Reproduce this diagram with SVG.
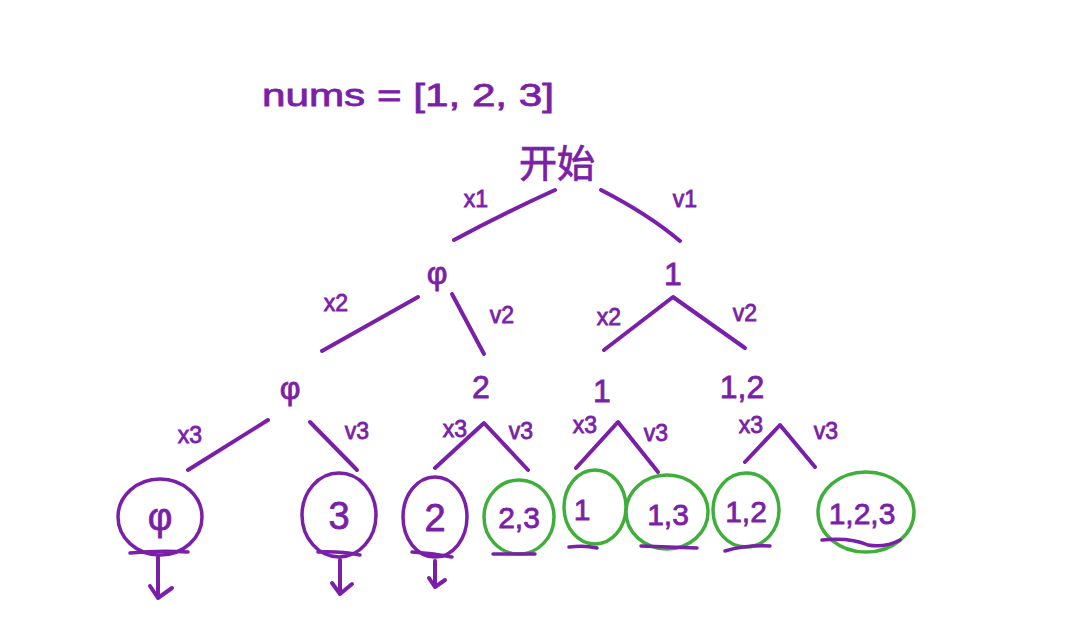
<svg xmlns="http://www.w3.org/2000/svg" width="1084" height="631" viewBox="0 0 1084 631">
<defs>
<style>
.t{font-family:"Liberation Sans","Noto Sans CJK SC",sans-serif;fill:#7a1fa8;stroke:#7a1fa8;stroke-width:0.8;text-anchor:middle}
.big{font-size:32px}
.lbl{font-size:23px}
.node{font-size:32px}
.leafb{font-size:38px}
.leaf{font-size:30px}
.e{fill:none;stroke:#7a1fa8;stroke-width:4;stroke-linecap:round;stroke-linejoin:round}
.p{fill:none;stroke:#7a1fa8;stroke-width:3.5}
.g{fill:none;stroke:#3fae3a;stroke-width:3.5}
.u{fill:none;stroke:#7a1fa8;stroke-width:3.5;stroke-linecap:round}
</style>
</defs>
<rect width="1084" height="631" fill="#ffffff"/>
<text class="t big" x="408" y="106" textLength="292" lengthAdjust="spacingAndGlyphs">nums = [1, 2, 3]</text>
<g id="root"><text class="t" style="font-size:38px" x="557" y="177">开始</text></g>
<g id="n_phi1"><text class="t node" x="437" y="284">φ</text></g>
<g id="n_1"><text class="t node" x="673" y="285">1</text></g>
<g id="n_phi2"><text class="t node" x="290" y="399">φ</text></g>
<g id="n_2"><text class="t node" x="481" y="398">2</text></g>
<g id="n_1b"><text class="t node" x="602" y="402">1</text></g>
<g id="n_12"><text class="t node" x="742" y="398">1,2</text></g>
<g id="leaf_phi"><ellipse class="p" cx="160" cy="517" rx="42" ry="38"/><text class="t leafb" x="160" y="530">φ</text><path class="u" d="M130 553 Q160 550 188 552"/></g>
<g id="leaf_3"><ellipse class="p" cx="339" cy="515" rx="37" ry="42"/><text class="t leafb" x="339" y="529">3</text><path class="u" d="M318 552 Q340 551 360 555"/></g>
<g id="leaf_2"><ellipse class="p" cx="435" cy="517" rx="32" ry="40"/><text class="t leafb" x="435" y="531">2</text><path class="u" d="M412 552 Q432 553 452 557"/></g>
<g id="leaf_23"><ellipse class="g" cx="519" cy="517" rx="35" ry="37"/><text class="t leaf" x="519" y="528">2,3</text><path class="u" d="M493 554 L535 554"/></g>
<g id="leaf_1"><ellipse class="g" cx="595" cy="507" rx="31" ry="37"/><text class="t leaf" x="582" y="520">1</text><path class="u" d="M569 547 Q585 545 597 548"/></g>
<g id="leaf_13"><ellipse class="g" cx="667" cy="512" rx="41" ry="37"/><text class="t leaf" x="668" y="525">1,3</text><path class="u" d="M641 546 L697 548"/></g>
<g id="leaf_12"><ellipse class="g" cx="746" cy="510" rx="33" ry="37"/><text class="t leaf" x="746" y="522">1,2</text><path class="u" d="M725 551 Q745 545 770 546"/></g>
<g id="leaf_123"><ellipse class="g" cx="866" cy="512" rx="48" ry="40"/><text class="t leaf" x="862" y="524">1,2,3</text><path class="u" d="M822 540 Q850 537 868 545 Q885 548 900 540"/></g>
<g id="connectors">
<path class="e" d="M555 190 Q500 215 454 240"/>
<path class="e" d="M601 190 Q648 214 680 241"/>
<path class="e" d="M418 297 L322 351"/>
<path class="e" d="M452 294 L484 354"/>
<path class="e" d="M604 350 L673 297 L745 348"/>
<path class="e" d="M268 420 L188 470"/>
<path class="e" d="M310 422 L357 470"/>
<path class="e" d="M435 468 L484 423 L528 470"/>
<path class="e" d="M576 468 L618 422 L658 472"/>
<path class="e" d="M745 462 L780 425 L815 467"/>
<path class="e" d="M158 557 L158 598 M150 586 L158 598 L172 588"/>
<path class="e" d="M340 560 L340 594 M332 583 L340 594 L352 584"/>
<path class="e" d="M435 561 L435 587 M429 578 L435 587 L445 580"/>
</g>
<g id="labels">
<text class="t lbl" x="476" y="207">x1</text>
<text class="t lbl" x="685" y="207">v1</text>
<text class="t lbl" x="336" y="311">x2</text>
<text class="t lbl" x="502" y="323">v2</text>
<text class="t lbl" x="609" y="325">x2</text>
<text class="t lbl" x="745" y="321">v2</text>
<text class="t lbl" x="190" y="443">x3</text>
<text class="t lbl" x="357" y="439">v3</text>
<text class="t lbl" x="455" y="437">x3</text>
<text class="t lbl" x="521" y="439">v3</text>
<text class="t lbl" x="585" y="433">x3</text>
<text class="t lbl" x="656" y="441">v3</text>
<text class="t lbl" x="751" y="433">x3</text>
<text class="t lbl" x="826" y="439">v3</text>
</g>
</svg>
